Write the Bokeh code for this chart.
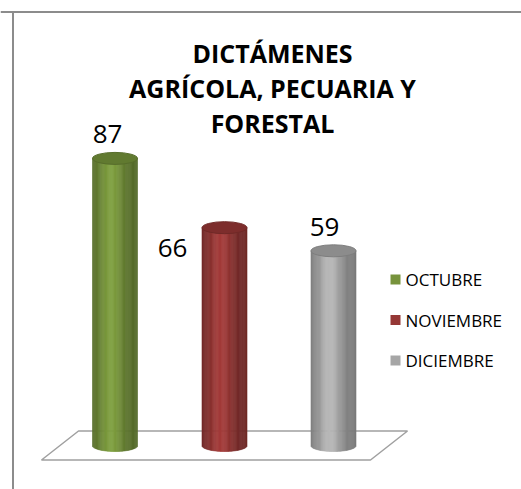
import math
from bokeh.plotting import figure
from bokeh.models import Range1d, Label, Span
from bokeh.embed import file_html
from bokeh.resources import INLINE

# ---- data ----
months = ["OCTUBRE", "NOVIEMBRE", "DICIEMBRE"]
values = [87, 66, 59]
colors = ["#7c9c3e", "#a03a38", "#b4b4b4"]
legend_colors = ["#77933c", "#953735", "#a6a6a6"]
title_lines = ["DICTÁMENES", "AGRÍCOLA, PECUARIA Y", "FORESTAL"]

# ---- layout constants (page pixels) ----
W, H = 521, 489
BASE_PY = 445.0      # page y of value 0
SCALE = 3.3          # pixels per unit
BAR_CX = [114.5, 224.0, 333.0]
BAR_W = 45.0
ELL_H = 12.0
LABEL_POS = [(107, 133), (172, 247), (324, 226)]
FONT = "Open Sans"


def vy(page_y):
    return (BASE_PY - page_y) / SCALE


def shade(hexcol, f):
    r = int(hexcol[1:3], 16); g = int(hexcol[3:5], 16); b = int(hexcol[5:7], 16)
    c = lambda v: max(0, min(255, int(round(v * f))))
    return "#%02x%02x%02x" % (c(r), c(g), c(b))


p = figure(width=W, height=H, output_backend="svg", toolbar_location=None,
           x_range=Range1d(0, W), y_range=Range1d(vy(H), vy(0)),
           min_border=0, title=None)
p.axis.visible = False
p.grid.visible = False
p.outline_line_color = None
p.background_fill_color = "white"
p.border_fill_color = "white"

# chart border: left edge as glyph, top edge as a Span annotation
p.quad(left=[11.5], right=[13.5], top=[vy(10.5)], bottom=[vy(H)],
       fill_color="#8c8c8c", line_color=None)
p.add_layout(Span(location=vy(11.5), dimension="width",
                  line_color="#8c8c8c", line_width=2))
p.add_layout(Span(location=11.5, dimension="height",
                  line_color="white", line_width=23, level="underlay"))

# floor
floor_x = [41, 370, 407, 78]
floor_y = [vy(459.5), vy(459.5), vy(430.5), vy(430.5)]
p.patch(floor_x, floor_y, fill_color="white", line_color="#a0a0a0", line_width=1.5)

# cylinders
N = 40
eh = ELL_H / SCALE
for cx, v, col in zip(BAR_CX, values, colors):
    lefts, rights, bots, tops, fills = [], [], [], [], []
    for i in range(N):
        t0 = i / N
        t1 = (i + 1) / N
        t = (t0 + t1) / 2
        f = 0.68 + 0.34 * math.exp(-((t - 0.42) / 0.28) ** 2)
        dx = (t - 0.5) * BAR_W
        half = (eh / 2) * math.sqrt(max(0.0, 1 - (2 * dx / BAR_W) ** 2))
        lefts.append(cx - BAR_W / 2 + t0 * BAR_W)
        rights.append(cx - BAR_W / 2 + t1 * BAR_W)
        bots.append(0 - half)
        tops.append(v)
        fills.append(shade(col, f))
    p.quad(left=lefts, right=rights, bottom=bots, top=tops,
           fill_color=fills, line_color=fills, line_width=0.6)
    p.ellipse(x=[cx], y=[v], width=BAR_W, height=eh,
              fill_color=shade(col, 0.78), line_color=shade(col, 0.7), line_width=1)

# value labels
for (lx, ly), v in zip(LABEL_POS, values):
    p.add_layout(Label(x=lx, y=vy(ly), text=str(v), text_align="center",
                       text_baseline="middle", text_font=FONT,
                       text_font_size="26px", text_color="#000000"))

# title
for i, line in enumerate(title_lines):
    p.add_layout(Label(x=272, y=vy(52 + 35 * i), text=line, text_align="center",
                       text_baseline="middle", text_font=FONT, text_font_style="bold",
                       text_font_size="25px", text_color="#000000"))

# legend
for i, (m, c) in enumerate(zip(months, legend_colors)):
    yy = 279 + 40.5 * i
    p.quad(left=[390], right=[400], top=[vy(yy - 5)], bottom=[vy(yy + 5)],
           fill_color=c, line_color=None)
    p.add_layout(Label(x=405, y=vy(yy), text=m, text_align="left",
                       text_baseline="middle", text_font=FONT,
                       text_font_size="17px", text_color="#000000"))

open("out.html", "w").write(file_html(p, INLINE))
